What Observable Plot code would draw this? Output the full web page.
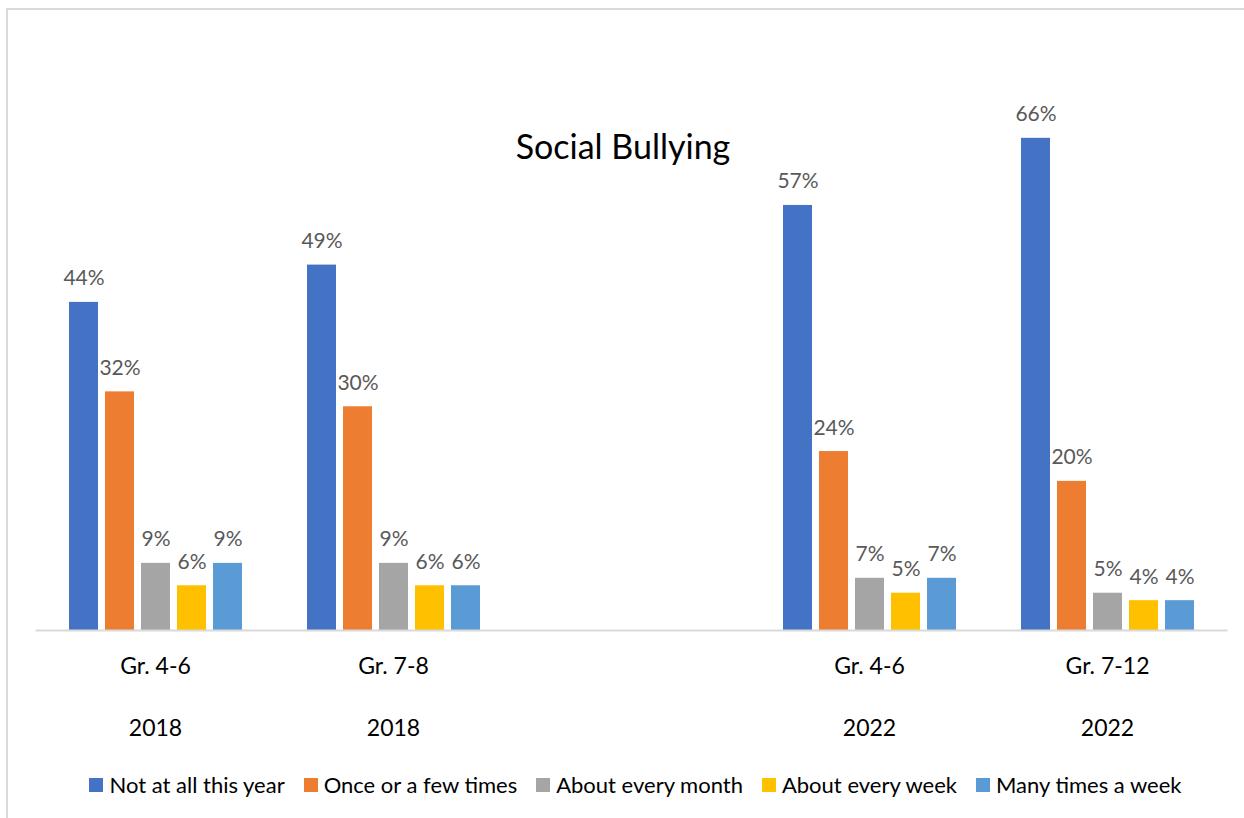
<!DOCTYPE html>
<html><head><meta charset="utf-8">
<script src="https://cdn.jsdelivr.net/npm/d3@7"></script>
<script src="https://cdn.jsdelivr.net/npm/@observablehq/plot@0.6"></script>
<style>
body{margin:0;background:#fff;overflow:hidden;font-family:Lato,"Open Sans",sans-serif}
#wrap{position:relative;width:1244px;height:818px;overflow:hidden}
#border{position:absolute;left:6px;top:8px;width:1260px;height:830px;border-left:2px solid #d9d9d9;border-top:2px solid #d9d9d9}
#chart{position:absolute;left:0;top:0}
#title{position:absolute;left:0;width:1246px;top:126px;text-align:center;font-size:34px;color:#000;line-height:40px}
#legend{position:absolute;left:0;width:1271px;top:770px;display:flex;justify-content:center;gap:19px;font-size:22px;color:#000;line-height:30px}
#legend .item{display:flex;align-items:center;gap:6px}
#legend .sw{width:14px;height:14px;display:inline-block}
</style></head>
<body><div id="wrap"><div id="border"></div><div id="chart"></div><div id="title">Social Bullying</div><div id="legend"></div></div>
<script>
const groupLabels = ["Gr. 4-6", "Gr. 7-8", "", "Gr. 4-6", "Gr. 7-12"];
const years = ["2018", "2018", "", "2022", "2022"];
const series = ["Not at all this year", "Once or a few times", "About every month", "About every week", "Many times a week"];
const colors = ["#4472C4", "#ED7D31", "#A5A5A5", "#FFC000", "#5B9BD5"];
const notAtAll = [44, 49, null, 57, 66];
const onceFew = [32, 30, null, 24, 20];
const everyMonth = [9, 9, null, 7, 5];
const everyWeek = [6, 6, null, 5, 4];
const manyTimes = [9, 6, null, 7, 4];

const valuesBySeries = [notAtAll, onceFew, everyMonth, everyWeek, manyTimes];
const slots = groupLabels.map((_, i) => i);
const data = [];
valuesBySeries.forEach((vals, s) => vals.forEach((v, i) => {
  if (v != null) data.push({slot: i, series: series[s], value: v});
}));

const chart = Plot.plot({
  width: 1244,
  height: 760,
  marginLeft: 36,
  marginRight: 18,
  marginTop: 108,
  marginBottom: 130,
  style: {fontFamily: "Lato, 'Open Sans', sans-serif", background: "transparent"},
  fx: {domain: slots, padding: 0, label: null, axis: null},
  x: {domain: series, paddingInner: 0.2, paddingOuter: 0.86, axis: null},
  y: {domain: [0, 70], axis: null},
  color: {domain: series, range: colors},
  marks: [
    Plot.barY(data, {fx: "slot", x: "series", y: "value", fill: "series"}),
    Plot.text(data, {fx: "slot", x: "series", y: "value", text: d => d.value + "%", lineAnchor: "bottom", dy: -17, fill: "#595959", fontSize: 21}),
    Plot.frame({anchor: "bottom", stroke: "#d9d9d9", strokeWidth: 2, facet: "super"}),
    Plot.axisFx({anchor: "bottom", tickSize: 0, tickPadding: 27, tickFormat: i => groupLabels[i], fontSize: 23, fill: "#000", label: null}),
    Plot.axisFx({anchor: "bottom", tickSize: 0, tickPadding: 89, tickFormat: i => years[i], fontSize: 23, fill: "#000", label: null})
  ]
});
document.getElementById("chart").appendChild(chart);

const legend = document.getElementById("legend");
series.forEach((s, i) => {
  const item = document.createElement("div");
  item.className = "item";
  const sw = document.createElement("span");
  sw.className = "sw";
  sw.style.background = colors[i];
  const t = document.createElement("span");
  t.textContent = s;
  item.appendChild(sw); item.appendChild(t);
  legend.appendChild(item);
});
</script>
</body></html>
